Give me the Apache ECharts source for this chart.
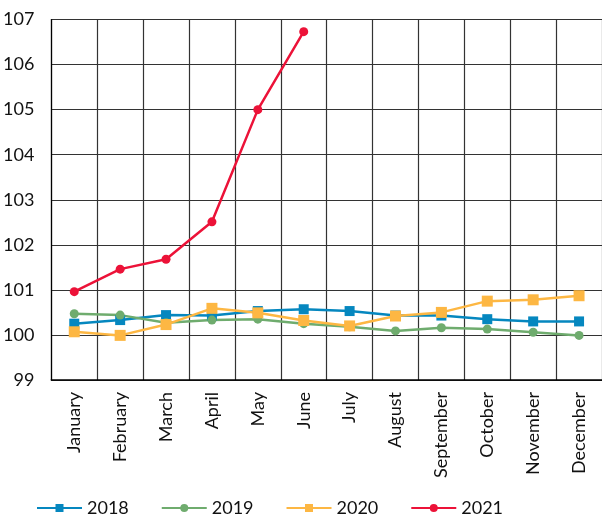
<!DOCTYPE html>
<html>
<head>
<meta charset="utf-8">
<script src="https://cdn.jsdelivr.net/npm/echarts@6/dist/echarts.min.js"></script>
<style>
  html, body { margin: 0; padding: 0; background: #fff; }
  #chart { width: 602px; height: 517px; }
</style>
</head>
<body>
<div id="chart"></div>
<script>
const months = ['January', 'February', 'March', 'April', 'May', 'June', 'July', 'August', 'September', 'October', 'November', 'December']
const y2018 = [100.25, 100.33, 100.44, 100.43, 100.53, 100.57, 100.53, 100.43, 100.43, 100.35, 100.30, 100.30]
const y2019 = [100.47, 100.44, 100.27, 100.33, 100.35, 100.25, 100.18, 100.09, 100.16, 100.13, 100.06, 99.99]
const y2020 = [100.07, 99.99, 100.23, 100.59, 100.49, 100.32, 100.20, 100.42, 100.50, 100.75, 100.78, 100.87]
const y2021 = [100.96, 101.46, 101.68, 102.51, 105.0, 106.73]

const font = 'Lato, "Noto Sans", sans-serif'

const chart = echarts.init(document.getElementById('chart'))

const mkSeries = (name, data, color, symbol, size) => ({
  name,
  type: 'line',
  data,
  symbol,
  symbolSize: size,
  lineStyle: { color, width: 2.5 },
  itemStyle: { color },
  animation: false
})

chart.setOption({
  animation: false,
  textStyle: { fontFamily: font },
  grid: { left: 51, top: 19.5, width: 553, height: 360.5, containLabel: false },
  legend: {
    bottom: -5,
    left: 31,
    itemWidth: 45,
    itemHeight: 10,
    itemGap: 32,
    textStyle: { fontSize: 18, color: '#111', fontFamily: font },
    data: ['2018', '2019', '2020', '2021']
  },
  xAxis: {
    type: 'category',
    data: months,
    boundaryGap: true,
    axisLine: { lineStyle: { color: '#000', width: 1.5 } },
    axisTick: { show: false },
    splitLine: { show: true, lineStyle: { color: '#333', width: 1.2 } },
    axisLabel: { rotate: 90, fontSize: 18, color: '#111', margin: 12, interval: 0, fontFamily: font }
  },
  yAxis: {
    type: 'value',
    min: 99,
    max: 107,
    interval: 1,
    axisLine: { show: true, lineStyle: { color: '#000', width: 1.2 } },
    axisTick: { show: false },
    splitLine: { lineStyle: { color: '#333', width: 1.2 } },
    axisLabel: { fontSize: 18, color: '#111', margin: 17, fontFamily: font }
  },
  series: [
    mkSeries('2018', y2018, '#0587bf', 'rect', 10),
    mkSeries('2019', y2019, '#6fac6e', 'circle', 9),
    mkSeries('2020', y2020, '#fdb743', 'rect', 11),
    mkSeries('2021', y2021, '#ec1238', 'circle', 9)
  ]
})
</script>
</body>
</html>
